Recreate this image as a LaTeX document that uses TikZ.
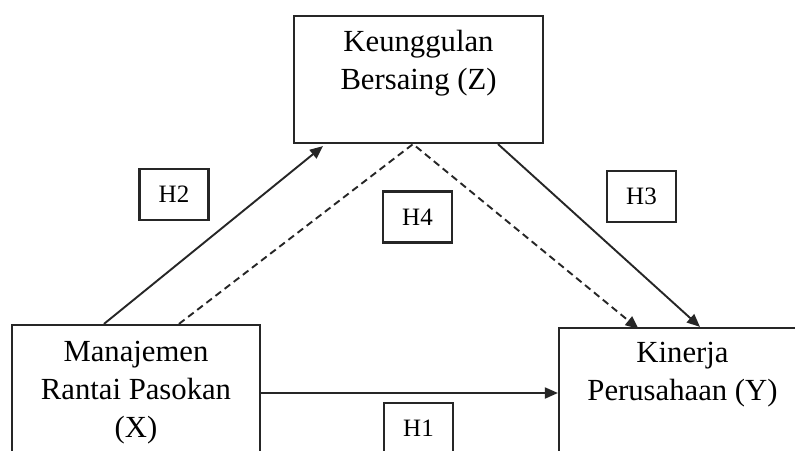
\documentclass[tikz,border=0pt]{standalone}
\usepackage{fontspec}
\setmainfont{Liberation Serif}
\usetikzlibrary{arrows.meta,positioning}

\begin{document}
\begin{tikzpicture}[
    x=1pt, y=-1pt,
    varbox/.style={rectangle, draw=black!85, line width=2.2pt, inner sep=0pt},
    vartext/.style={inner sep=0pt, align=center, font=\fontsize{30.7pt}{38pt}\selectfont},
    hbox/.style={rectangle, draw=black!85, line width=2.2pt, inner sep=0pt,
                 minimum width=69pt, minimum height=51pt, font=\fontsize{25pt}{29pt}\selectfont},
    arrow/.style={-{Triangle[length=13pt, width=11pt]}, line width=1.9pt, black!85},
    dasharrow/.style={arrow, dash pattern=on 7pt off 4.5pt},
]
\clip (0,0) rectangle (795,450);
\fill[white] (0,0) rectangle (795,450);
% variable boxes
\node[varbox, minimum width=249pt, minimum height=127pt] (Z) at (418.5,79.5) {};
\node[varbox, minimum width=248pt, minimum height=136pt] (X) at (136,393) {};
\node[varbox, minimum width=247pt, minimum height=130pt] (Y) at (682.5,393) {};
\node[vartext, below=15pt of Z.north] (Ztext) {Keunggulan\\Bersaing (Z)};
\node[vartext, below=17pt of X.north] (Xtext) {Manajemen\\Rantai Pasokan\\(X)};
\node[vartext, below=15pt of Y.north] (Ytext) {Kinerja\\Perusahaan (Y)};
% hypothesis labels
\node[hbox] (H2) at (174,194.5) {H2};
\node[hbox] (H4) at (417.5,217) {H4};
\node[hbox] (H3) at (641.5,196.5) {H3};
\node[hbox] (H1) at (418.5,428.5) {H1};
% paths
\coordinate (apex) at ([xshift=-5.5pt]Z.south);
\draw[arrow] ([xshift=-32pt]X.north) -- ([xshift=-95.5pt, yshift=-2pt]Z.south);
\draw[arrow] ([xshift=79.5pt]Z.south) -- ([xshift=17.5pt]Y.north);
\draw[dasharrow] ([xshift=43pt]X.north) -- (apex) -- ([xshift=-44pt, yshift=-2pt]Y.north);
\draw[arrow] (X.east) -- (Y.west);
\end{tikzpicture}
\end{document}
